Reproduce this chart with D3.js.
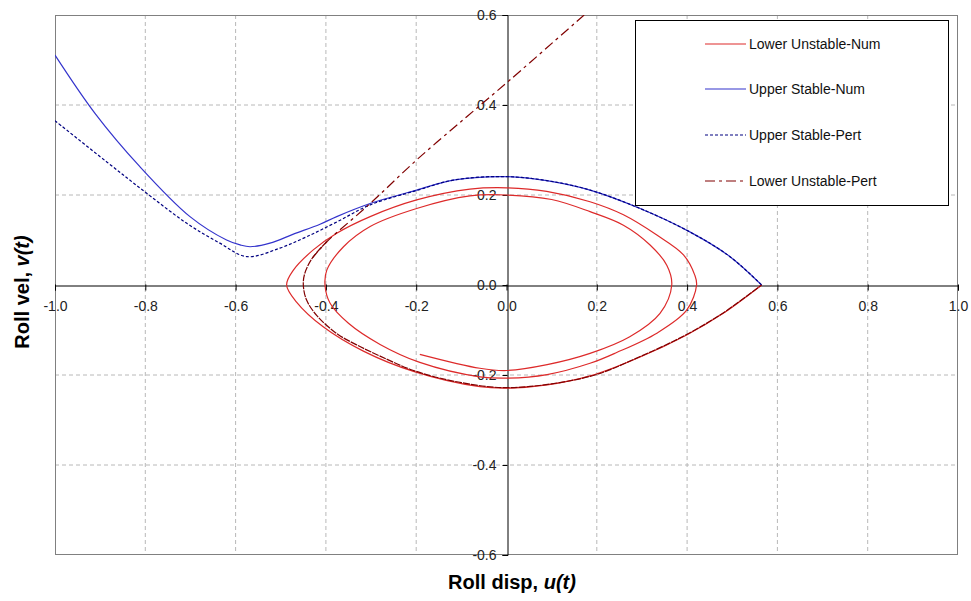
<!DOCTYPE html>
<html><head><meta charset="utf-8">
<script src="https://cdn.jsdelivr.net/npm/d3@7"></script>
<style>body{margin:0;background:#fff}svg{display:block}text{font-family:Arial,"Liberation Sans",sans-serif}</style>
</head><body><svg id="c" width="971" height="601"></svg>
<script>
// ---- data ----
const xTicks = [-1.0,-0.8,-0.6,-0.4,-0.2,0.0,0.2,0.4,0.6,0.8,1.0];
const yTicks = [-0.6,-0.4,-0.2,0.0,0.2,0.4,0.6];
const seriesNames = ["Lower Unstable-Num","Upper Stable-Num","Upper Stable-Pert","Lower Unstable-Pert"];

const lowerNumU = [0.565,0.48,0.399,0.296,0.185,0.09,0.008,-0.059,-0.206,-0.317,-0.406,-0.465,-0.487,
  -0.472,-0.428,-0.376,-0.302,-0.199,-0.081,0.0,0.089,0.185,0.259,0.333,0.392,0.417,0.421,
  0.399,0.333,0.244,0.185,0.09,0.0,-0.059,-0.192,-0.28,-0.35,-0.391,-0.402,
  -0.398,-0.361,-0.302,-0.199,-0.081,0.0,0.1,0.185,0.259,0.318,0.355,0.366,
  0.34,0.273,0.185,0.09,0.0,-0.059,-0.192];
const lowerNumV = [0.0,-0.063,-0.111,-0.16,-0.202,-0.222,-0.229,-0.226,-0.192,-0.147,-0.093,-0.038,0.0,
  0.033,0.078,0.115,0.152,0.189,0.213,0.216,0.208,0.185,0.156,0.111,0.067,0.022,0.0,
  -0.056,-0.107,-0.15,-0.174,-0.199,-0.207,-0.204,-0.172,-0.132,-0.085,-0.04,0.0,
  0.033,0.085,0.13,0.17,0.198,0.2,0.19,0.163,0.133,0.089,0.044,0.0,
  -0.063,-0.115,-0.152,-0.177,-0.19,-0.185,-0.154];

const upperNumU = [-1.0,-0.911,-0.812,-0.701,-0.62,-0.59,-0.568,-0.524,-0.472,-0.413,-0.376,-0.302,-0.199,-0.118,-0.007,0.089,0.185,0.296,0.406,0.495,0.565];
const upperNumV = [0.511,0.381,0.263,0.152,0.1,0.089,0.085,0.093,0.113,0.135,0.152,0.181,0.211,0.233,0.241,0.232,0.211,0.17,0.118,0.063,0.0];

const upperPertU = [-1.0,-0.886,-0.797,-0.708,-0.635,-0.575,-0.502,-0.443,-0.376,-0.302,-0.199,-0.118,-0.007,0.089,0.185,0.296,0.406,0.495,0.565];
const upperPertV = [0.365,0.274,0.204,0.137,0.093,0.063,0.082,0.107,0.14,0.178,0.21,0.233,0.241,0.232,0.211,0.17,0.118,0.063,0.0];

const lowerPertU = [0.172,0.008,-0.088,-0.199,-0.302,-0.398,-0.43,-0.447,-0.45,-0.443,-0.42,-0.376,-0.332,-0.28,-0.206,-0.1,0.008,0.185,0.296,0.399,0.48,0.565];
const lowerPertV = [0.6,0.456,0.374,0.278,0.181,0.096,0.06,0.025,0.0,-0.033,-0.068,-0.108,-0.133,-0.158,-0.19,-0.217,-0.228,-0.203,-0.159,-0.11,-0.062,0.0];

// ---- drawing ----
const svg = d3.select("#c");
const L = 55, R = 958, T = 15, B = 555;
const x = d3.scaleLinear().domain([-1,1]).range([L,R]);
const y = d3.scaleLinear().domain([-0.6,0.6]).range([B,T]);
const fmt = d => d3.format(".1f")(d).replace("\u2212","-");

// grid
const g = svg.append("g");
g.selectAll("line.gx").data(xTicks.filter(d=>d!==0&&Math.abs(d)!==1)).join("line")
  .attr("x1",d=>x(d)).attr("x2",d=>x(d)).attr("y1",T).attr("y2",B)
  .attr("stroke","#b8b8b8").attr("stroke-dasharray","4,3").attr("stroke-width",1);
g.selectAll("line.gy").data(yTicks.filter(d=>d!==0&&Math.abs(d)!==0.6)).join("line")
  .attr("y1",d=>y(d)).attr("y2",d=>y(d)).attr("x1",L).attr("x2",R)
  .attr("stroke","#b8b8b8").attr("stroke-dasharray","4,3").attr("stroke-width",1);
// border
svg.append("rect").attr("x",L+0.5).attr("y",T+0.5).attr("width",R-L-1).attr("height",B-T-1)
  .attr("fill","none").attr("stroke","#808080").attr("stroke-width",1);

// axes through origin
const xAxis = d3.axisBottom(x).tickValues(xTicks).tickFormat(fmt).tickSize(5).tickPadding(11);
const yAxis = d3.axisLeft(y).tickValues(yTicks).tickFormat(fmt).tickSize(5).tickPadding(6);
const gx = svg.append("g").attr("transform",`translate(0,${Math.round(y(0))+0.5})`).call(xAxis);
const gy = svg.append("g").attr("transform",`translate(${Math.round(x(0))+0.5},0)`).call(yAxis);
[gx,gy].forEach(a=>{
  a.select(".domain").attr("stroke","#000").attr("stroke-width",1);
  a.selectAll(".tick line").attr("stroke","#000");
  a.selectAll("text").attr("font-size",14).attr("fill","#222")
   .attr("font-family","Arial, 'Liberation Sans', sans-serif");
});
gx.selectAll(".tick line").attr("y1",-1);

// series
const line = d3.line().x(d=>x(d[0])).y(d=>y(d[1])).curve(d3.curveCatmullRom.alpha(0.5));
const zip = (u,v)=>u.map((d,i)=>[d,v[i]]);
svg.append("clipPath").attr("id","pc").append("rect")
  .attr("x",L).attr("y",T).attr("width",R-L).attr("height",B-T);
const plot = svg.append("g").attr("clip-path","url(#pc)");

const styles = [
  {color:"#dd2a2a", dash:null},
  {color:"#3333cc", dash:null},
  {color:"#000080", dash:"3,2"},
  {color:"#800000", dash:"10,4,3,4"}
];
const draw = (data, s, dash) => plot.append("path").attr("d",line(data)).attr("fill","none")
    .attr("stroke",s.color).attr("stroke-width",1.2).attr("stroke-dasharray",dash);
draw(zip(lowerNumU,lowerNumV), styles[0], null);
draw(zip(upperNumU,upperNumV), styles[1], null);
draw(zip(upperPertU,upperPertV), styles[2], styles[2].dash);
const lp = zip(lowerPertU,lowerPertV);
draw(lp.slice(0,7), styles[3], styles[3].dash);
draw(lp.slice(5), styles[3], "7,1");

// legend
const lg = svg.append("g");
lg.append("rect").attr("x",635.5).attr("y",20.5).attr("width",313).attr("height",185)
  .attr("fill","#fff").attr("stroke","#000").attr("stroke-width",1);
const legY = [44,89,135,181];
seriesNames.forEach((n,i)=>{
  lg.append("line").attr("x1",705).attr("x2",746).attr("y1",legY[i]).attr("y2",legY[i])
    .attr("stroke",styles[i].color).attr("stroke-width",1.2).attr("stroke-dasharray",styles[i].dash);
  lg.append("text").attr("x",749).attr("y",legY[i]).attr("dy","0.35em")
    .attr("font-size",14).attr("fill","#111").text(n);
});

// axis titles
const xt = svg.append("text").attr("x",512).attr("y",589).attr("text-anchor","middle")
  .attr("font-size",20).attr("font-weight","bold").attr("fill","#000");
xt.append("tspan").text("Roll disp, ");
xt.append("tspan").attr("font-style","italic").text("u(t)");
const yt = svg.append("text").attr("transform","translate(29,292) rotate(-90)").attr("text-anchor","middle")
  .attr("font-size",20).attr("font-weight","bold").attr("fill","#000");
yt.append("tspan").text("Roll vel,  ");
yt.append("tspan").attr("font-style","italic").text("v(t)");
</script></body></html>
